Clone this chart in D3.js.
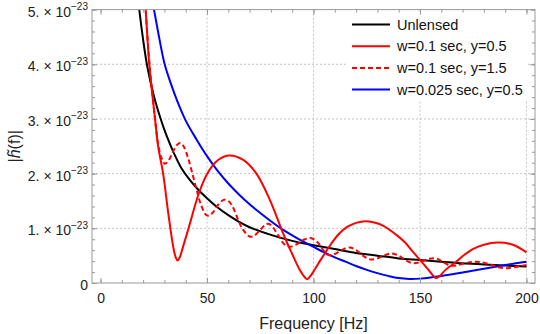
<!DOCTYPE html>
<html><head><meta charset="utf-8">
<script src="https://cdn.jsdelivr.net/npm/d3@7"></script>
<style>
body{margin:0;background:#fff}
svg{display:block}
text{font-family:"Liberation Sans",Arial,Helvetica,sans-serif}
</style>
</head><body>
<svg id="chart" width="540" height="334"></svg>
<script>
// ---- data (amplitudes in units of 1e-23) ----
const seriesNames = ["Unlensed", "w=0.1 sec, y=0.5", "w=0.1 sec, y=1.5", "w=0.025 sec, y=0.5"];

const unlensedF = [17, 18.2, 20, 22, 25, 28, 30, 32, 35, 38, 42, 46, 50, 55, 60, 65, 70, 80, 90, 100, 110, 120, 130, 140, 150, 160, 170, 180, 190, 200];
const unlensedV = [5.45, 5.0, 4.45, 3.95, 3.43, 3.03, 2.80, 2.60, 2.33, 2.10, 1.88, 1.70, 1.55, 1.38, 1.24, 1.12, 1.02, 0.88, 0.77, 0.69, 0.62, 0.55, 0.50, 0.45, 0.42, 0.39, 0.36, 0.34, 0.32, 0.30];

const w01y05F = [20.7, 21.2, 22.9, 25.6, 27.1, 29.4, 31.8, 34.1, 35.3, 36.2, 37.2, 38.8, 42, 45.9, 50.1, 55.2, 60.5, 67, 73.2, 79.5, 85.7, 88, 90, 92, 94, 96, 97, 98, 100, 102, 105, 108, 112, 116, 120, 124.5, 128, 132.6, 138.9, 143, 146.7, 151.4, 154, 156, 157.5, 159, 162, 167, 171, 174.8, 180, 186.5, 193.6, 200];
const w01y05V = [5.3, 5.0, 4.0, 3.0, 2.49, 2.0, 1.28, 0.67, 0.47, 0.41, 0.47, 0.67, 1.09, 1.61, 2.0, 2.25, 2.33, 2.25, 2.0, 1.52, 0.91, 0.70, 0.53, 0.36, 0.21, 0.10, 0.07, 0.10, 0.21, 0.34, 0.52, 0.70, 0.90, 1.03, 1.10, 1.13, 1.11, 1.05, 0.88, 0.74, 0.57, 0.36, 0.24, 0.14, 0.09, 0.12, 0.24, 0.39, 0.52, 0.62, 0.70, 0.74, 0.70, 0.56];

const w01y15F = [20.5, 21.2, 23, 25.6, 27, 28.5, 30.2, 32, 34, 36, 37.5, 39, 41, 43, 45, 47, 49.5, 51, 53, 55, 57.8, 60, 62, 65, 67, 70, 72, 75, 78, 80, 83, 86, 88, 90, 93, 96, 99, 102, 105, 107, 110, 113, 117, 120, 124, 127, 130, 133, 136.5, 140, 144, 147, 150, 154, 157.5, 161, 164, 167, 171, 176, 180, 185, 189.5, 193, 197, 200];
const w01y15V = [5.4, 5.0, 4.0, 3.0, 2.55, 2.3, 2.18, 2.24, 2.40, 2.53, 2.56, 2.50, 2.30, 2.02, 1.72, 1.45, 1.25, 1.23, 1.30, 1.42, 1.52, 1.50, 1.40, 1.12, 0.97, 0.85, 0.86, 0.97, 1.08, 1.06, 0.90, 0.72, 0.67, 0.67, 0.73, 0.80, 0.82, 0.74, 0.58, 0.51, 0.53, 0.60, 0.65, 0.60, 0.48, 0.43, 0.45, 0.50, 0.54, 0.50, 0.40, 0.36, 0.38, 0.44, 0.45, 0.38, 0.32, 0.32, 0.36, 0.39, 0.37, 0.31, 0.27, 0.28, 0.31, 0.33];

const w0025y05F = [24, 25.1, 27, 30, 33, 36, 40, 45, 50, 55, 60, 65, 70, 75, 80, 85, 90, 95, 100, 105, 110, 115, 120, 125, 130, 135, 140, 145, 150, 155, 160, 170, 180, 190, 200];
const w0025y05V = [5.25, 5.0, 4.6, 4.02, 3.65, 3.33, 2.97, 2.63, 2.32, 2.05, 1.82, 1.62, 1.44, 1.28, 1.13, 0.99, 0.87, 0.76, 0.66, 0.56, 0.47, 0.39, 0.31, 0.24, 0.18, 0.13, 0.09, 0.075, 0.08, 0.10, 0.13, 0.19, 0.26, 0.33, 0.39];

const xTicks = [0, 50, 100, 150, 200];
const xMinorTicks = d3.range(0, 201, 10);
const yTicks = [0, 1, 2, 3, 4, 5];
const yTickMantissa = ["0", "1.", "2.", "3.", "4.", "5."];
const yTickExponent = "\u221223";
const yMinorTicks = d3.range(0, 5.01, 0.2).map(d => +d.toFixed(2));

// ---- layout ----
const L = 92, R = 535, T = 9.6, B = 283;
const svg = d3.select("#chart");
const x = d3.scaleLinear().domain([-4, 204]).range([L, R]);
const y = d3.scaleLinear().domain([0, 5]).range([B, T]);

// grid
const grid = svg.append("g").attr("stroke", "#c4c4c4").attr("stroke-width", 1).attr("stroke-dasharray", "2,2");
xTicks.filter(d => d > 0).forEach(d => {
  grid.append("line").attr("x1", x(d)).attr("x2", x(d)).attr("y1", T).attr("y2", B);
});
yTicks.filter(d => d > 0 && d < 5).forEach(d => {
  grid.append("line").attr("x1", L).attr("x2", R).attr("y1", y(d)).attr("y2", y(d));
});

// legend background
const lg = svg.append("g");
lg.append("rect").attr("x", 346).attr("y", 12).attr("width", 181).attr("height", 89).attr("fill", "#fff");

// curves
svg.append("defs").append("clipPath").attr("id", "clip")
  .append("rect").attr("x", L).attr("y", T).attr("width", R - L).attr("height", B - T);
const line = d3.line().x(d => x(d[0])).y(d => y(d[1])).curve(d3.curveCatmullRom.alpha(0.5));
const zip = (a, b) => a.map((v, i) => [v, b[i]]);
const series = [
  {f: unlensedF, v: unlensedV, color: "#000000", dash: null},
  {f: w01y05F, v: w01y05V, color: "#ff0000", dash: null},
  {f: w01y15F, v: w01y15V, color: "#ff0000", dash: "5,3"},
  {f: w0025y05F, v: w0025y05V, color: "#0000ff", dash: null}
];
const cg = svg.append("g").attr("clip-path", "url(#clip)");
[0, 3, 1, 2].forEach(i => {
  const s = series[i];
  cg.append("path").attr("d", line(zip(s.f, s.v)))
    .attr("fill", "none").attr("stroke", s.color).attr("stroke-width", 2)
    .attr("stroke-dasharray", s.dash);
});

// frame + ticks via axes
const frameColor = "#9a9a9a";
function styleAxis(g) {
  g.select(".domain").remove();
  g.selectAll(".tick line").attr("stroke", frameColor);
}
svg.append("g").attr("transform", `translate(0,${B})`)
  .call(d3.axisBottom(x).tickValues(xMinorTicks).tickSize(-3).tickFormat(""))
  .call(styleAxis);
svg.append("g").attr("transform", `translate(0,${T})`)
  .call(d3.axisTop(x).tickValues(xMinorTicks).tickSize(-3).tickFormat(""))
  .call(styleAxis);
svg.append("g").attr("transform", `translate(0,${T})`)
  .call(d3.axisTop(x).tickValues(xTicks).tickSize(-5).tickFormat(""))
  .call(styleAxis);
const xAxis = svg.append("g").attr("transform", `translate(0,${B})`)
  .call(d3.axisBottom(x).tickValues(xTicks).tickSize(-5).tickPadding(10).tickFormat(d3.format("d")))
  .call(styleAxis);
xAxis.selectAll("text").attr("font-size", 14).attr("fill", "#222").attr("font-family", '"Liberation Sans",Arial,sans-serif');

svg.append("g").attr("transform", `translate(${L},0)`)
  .call(d3.axisLeft(y).tickValues(yMinorTicks).tickSize(-3).tickFormat(""))
  .call(styleAxis);
svg.append("g").attr("transform", `translate(${R},0)`)
  .call(d3.axisRight(y).tickValues(yMinorTicks).tickSize(-3).tickFormat(""))
  .call(styleAxis);
svg.append("g").attr("transform", `translate(${R},0)`)
  .call(d3.axisRight(y).tickValues(yTicks).tickSize(-5).tickFormat(""))
  .call(styleAxis);
const yAxis = svg.append("g").attr("transform", `translate(${L},0)`)
  .call(d3.axisLeft(y).tickValues(yTicks).tickSize(-5).tickFormat(""))
  .call(styleAxis);
yAxis.selectAll(".tick").each(function(d, i) {
  const t = d3.select(this).append("text")
    .attr("x", -4).attr("y", 6.5).attr("text-anchor", "end")
    .attr("fill", "#222").attr("font-size", 14).attr("font-family", '"Liberation Sans",Arial,sans-serif');
  if (d === 0) { t.text(yTickMantissa[i]); return; }
  t.append("tspan").text(yTickMantissa[i] + " \u00d7 10");
  t.append("tspan").attr("dy", -6.5).attr("font-size", 10).text(yTickExponent);
});

// frame lines
const fr = svg.append("g").attr("stroke", frameColor).attr("stroke-width", 1).attr("fill", "none");
fr.append("rect").attr("x", L).attr("y", T).attr("width", R - L).attr("height", B - T);

// axis labels
svg.append("text").attr("x", (L + R) / 2).attr("y", 329).attr("text-anchor", "middle")
  .attr("font-size", 16).attr("fill", "#222").text("Frequency [Hz]");
const yl = svg.append("text").attr("transform", `translate(19.5,${(T + B) / 2}) rotate(-90)`)
  .attr("text-anchor", "middle").attr("font-size", 16).attr("fill", "#222");
yl.append("tspan").text("|");
yl.append("tspan").attr("font-style", "italic").text("h\u0303");
yl.append("tspan").text("(f)|");

// legend
const lx0 = 352, lx1 = 390, ly0 = 24.5, ldy = 21.7;
series.forEach((s, i) => {
  const yy = ly0 + i * ldy;
  lg.append("line").attr("x1", lx0).attr("x2", lx1).attr("y1", yy).attr("y2", yy)
    .attr("stroke", s.color).attr("stroke-width", 2).attr("stroke-dasharray", s.dash);
  lg.append("text").attr("x", 397).attr("y", yy + 5).attr("font-size", 14.5).attr("fill", "#111")
    .text(seriesNames[i]);
});
</script>
</body></html>
